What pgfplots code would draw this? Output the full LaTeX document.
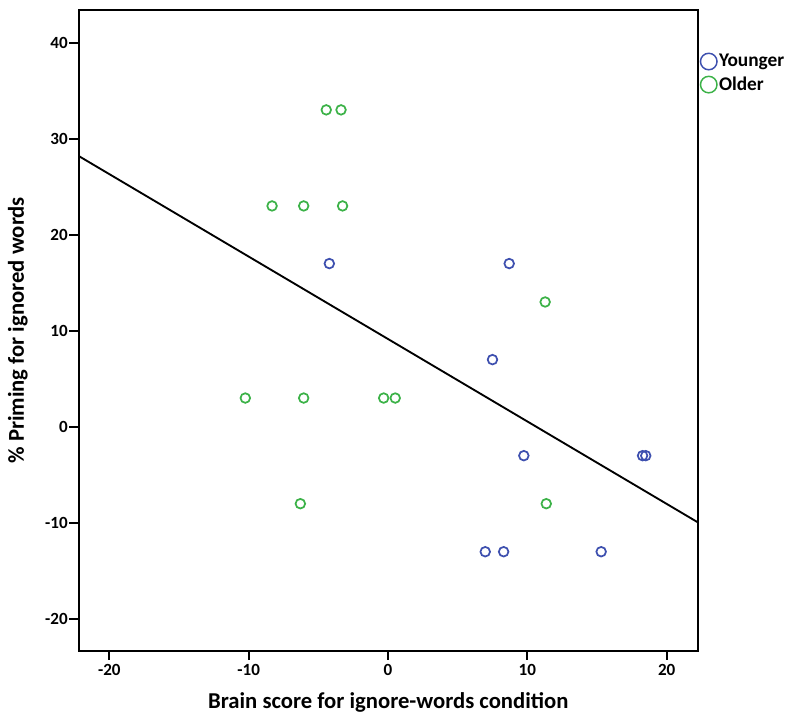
\documentclass[border=0pt]{standalone}
\usepackage{fontspec}
\setmainfont{Carlito}
\usepackage{pgfplots}
\pgfplotsset{compat=1.18}
\definecolor{younger}{RGB}{62,80,175}
\definecolor{older}{RGB}{60,178,72}
\begin{document}
\begin{tikzpicture}
\begin{axis}[
  at={(0,0)}, anchor=south west,
  scale only axis, width=464.5pt, height=480.5pt,
  xmin=-22.2, xmax=22.25, ymin=-23.3, ymax=43.4,
  xtick={-20,-10,0,10,20}, xticklabels={-20,-10,0,10,20},
  ytick={-20,-10,0,10,20,30,40}, yticklabels={-20,-10,0,10,20,30,40},
  axis line style={line width=1.5pt},
  every tick/.style={line width=1.5pt, black},
  tick align=outside, major tick length=7pt,
  xtick pos=bottom, ytick pos=left,
  ticklabel style={font=\fontsize{12.8}{14}\selectfont\bfseries},
  xticklabel style={inner sep=1pt, yshift=-2pt},
  yticklabel style={inner sep=1pt},
  xlabel={Brain score for ignore-words condition},
  ylabel={\% Priming for ignored words},
  label style={font=\fontsize{17}{20}\selectfont\bfseries},
  xlabel style={at={(axis description cs:0.5,-0.081)}, anchor=center},
  ylabel style={at={(axis description cs:-0.098,0.5)}, anchor=center},
  legend style={at={(axis description cs:1.004,0.934)}, anchor=north west, draw=none, fill=none,
    inner sep=0pt, outer sep=0pt, font=\fontsize{14.5}{16}\selectfont\bfseries,
    nodes={inner sep=1.5pt}, row sep=3pt},
  legend cell align=left,
  legend image code/.code={\draw[#1, mark size=6.2pt, line width=1.1pt] plot coordinates {(6.2pt,0pt)};},
  clip=false,
]
\addplot[only marks, mark=o, mark size=3.6pt, line width=1.3pt, color=younger] coordinates {
  (-4.21,17) (8.70,17) (7.50,7) (9.75,-3) (18.27,-3) (18.50,-3)
  (6.98,-13) (8.30,-13) (15.30,-13)
};
\addlegendentry{Younger}
\addplot[only marks, mark=o, mark size=3.6pt, line width=1.3pt, color=older] coordinates {
  (-4.43,33) (-3.37,33) (-8.32,23) (-6.05,23) (-3.26,23)
  (-10.24,3) (-6.05,3) (-0.31,3) (0.52,3) (-6.29,-8)
  (11.28,13) (11.36,-8)
};
\addlegendentry{Older}
\addplot[black, line width=1.4pt, forget plot] coordinates {(-22.2,28.2) (22.25,-9.95)};
\end{axis}
\pgfresetboundingbox
\path[use as bounding box] (-59pt,-54.2pt) rectangle (541pt,488pt);
\end{tikzpicture}
\end{document}
